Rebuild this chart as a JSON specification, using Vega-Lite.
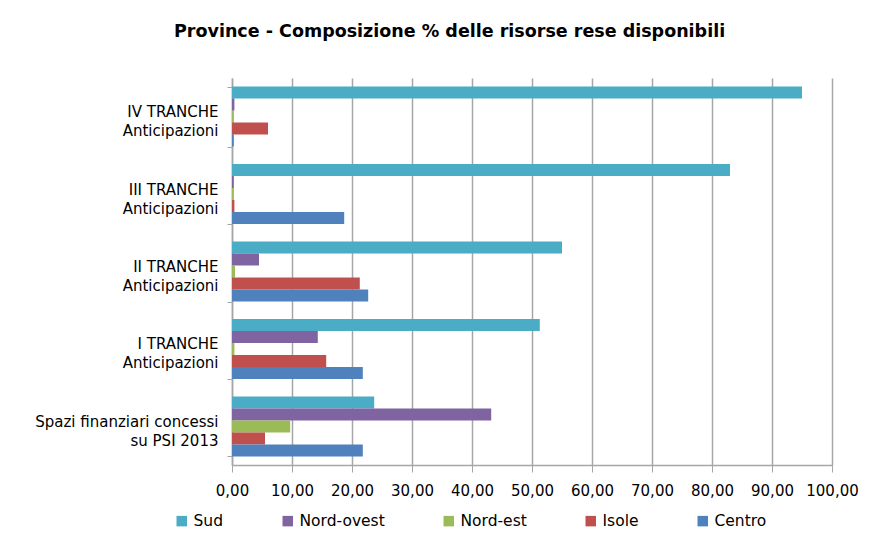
{
  "$schema": "https://vega.github.io/schema/vega-lite/v6.json",
  "width": 600,
  "height": 387,
  "autosize": {"type": "none"},
  "padding": {"left": 232, "top": 78, "right": 53, "bottom": 88},
  "background": "white",
  "title": {
    "text": "Province - Composizione  % delle risorse rese disponibili",
    "font": "DejaVu Sans",
    "fontSize": 17.5,
    "fontWeight": "bold",
    "color": "#000000",
    "anchor": "start",
    "frame": "group",
    "dx": -58,
    "offset": 31
  },
  "data": {
    "values": [
      {"tranche": "IV TRANCHE|Anticipazioni", "area": "Sud", "value": 95.0},
      {"tranche": "IV TRANCHE|Anticipazioni", "area": "Nord-ovest", "value": 0.4},
      {"tranche": "IV TRANCHE|Anticipazioni", "area": "Nord-est", "value": 0.3},
      {"tranche": "IV TRANCHE|Anticipazioni", "area": "Isole", "value": 6.0},
      {"tranche": "IV TRANCHE|Anticipazioni", "area": "Centro", "value": 0.3},
      {"tranche": "III TRANCHE|Anticipazioni", "area": "Sud", "value": 83.0},
      {"tranche": "III TRANCHE|Anticipazioni", "area": "Nord-ovest", "value": 0.3},
      {"tranche": "III TRANCHE|Anticipazioni", "area": "Nord-est", "value": 0.3},
      {"tranche": "III TRANCHE|Anticipazioni", "area": "Isole", "value": 0.4},
      {"tranche": "III TRANCHE|Anticipazioni", "area": "Centro", "value": 18.7},
      {"tranche": "II TRANCHE|Anticipazioni", "area": "Sud", "value": 55.0},
      {"tranche": "II TRANCHE|Anticipazioni", "area": "Nord-ovest", "value": 4.5},
      {"tranche": "II TRANCHE|Anticipazioni", "area": "Nord-est", "value": 0.5},
      {"tranche": "II TRANCHE|Anticipazioni", "area": "Isole", "value": 21.3},
      {"tranche": "II TRANCHE|Anticipazioni", "area": "Centro", "value": 22.7},
      {"tranche": "I TRANCHE |Anticipazioni", "area": "Sud", "value": 51.3},
      {"tranche": "I TRANCHE |Anticipazioni", "area": "Nord-ovest", "value": 14.3},
      {"tranche": "I TRANCHE |Anticipazioni", "area": "Nord-est", "value": 0.4},
      {"tranche": "I TRANCHE |Anticipazioni", "area": "Isole", "value": 15.7},
      {"tranche": "I TRANCHE |Anticipazioni", "area": "Centro", "value": 21.8},
      {"tranche": "Spazi finanziari concessi|su PSI 2013", "area": "Sud", "value": 23.7},
      {"tranche": "Spazi finanziari concessi|su PSI 2013", "area": "Nord-ovest", "value": 43.2},
      {"tranche": "Spazi finanziari concessi|su PSI 2013", "area": "Nord-est", "value": 9.7},
      {"tranche": "Spazi finanziari concessi|su PSI 2013", "area": "Isole", "value": 5.5},
      {"tranche": "Spazi finanziari concessi|su PSI 2013", "area": "Centro", "value": 21.8}
    ]
  },
  "mark": {"type": "bar"},
  "encoding": {
    "y": {
      "field": "tranche",
      "type": "nominal",
      "sort": ["IV TRANCHE|Anticipazioni", "III TRANCHE|Anticipazioni", "II TRANCHE|Anticipazioni", "I TRANCHE |Anticipazioni", "Spazi finanziari concessi|su PSI 2013"],
      "scale": {"paddingInner": 0.225, "paddingOuter": 0.11},
      "axis": {
        "title": null,
        "labelExpr": "split(datum.label, '|')",
        "labelFont": "DejaVu Sans",
        "labelFontSize": 15,
        "labelColor": "#000000",
        "labelLineHeight": 19,
        "labelOffset": -5,
        "labelPadding": 9,
        "labelLimit": 230,
        "tickBand": "extent",
        "tickSize": 5,
        "tickColor": "#a6a6a6",
        "domainColor": "#a6a6a6",
        "domainWidth": 1.5,
        "grid": false
      }
    },
    "yOffset": {
      "field": "area",
      "sort": ["Sud", "Nord-ovest", "Nord-est", "Isole", "Centro"],
      "scale": {"paddingInner": 0, "paddingOuter": 0}
    },
    "x": {
      "field": "value",
      "type": "quantitative",
      "scale": {"domain": [0, 100], "nice": false},
      "axis": {
        "title": null,
        "values": [0, 10, 20, 30, 40, 50, 60, 70, 80, 90, 100],
        "labelExpr": "replace(format(datum.value, '.2f'), '.', ',')",
        "labelFont": "DejaVu Sans",
        "labelFontSize": 15,
        "labelColor": "#000000",
        "labelPadding": 11,
        "labelFlush": false,
        "tickSize": 7,
        "tickColor": "#a6a6a6",
        "domainColor": "#a6a6a6",
        "domainWidth": 1.5,
        "grid": true,
        "gridColor": "#a6a6a6",
        "gridWidth": 1.5
      }
    },
    "color": {
      "field": "area",
      "type": "nominal",
      "sort": ["Sud", "Nord-ovest", "Nord-est", "Isole", "Centro"],
      "scale": {
        "domain": ["Sud", "Nord-ovest", "Nord-est", "Isole", "Centro"],
        "range": ["#4BACC6", "#8064A2", "#9BBB59", "#C0504D", "#4F81BD"]
      },
      "legend": {
        "title": null,
        "orient": "none",
        "legendX": -58,
        "legendY": 435,
        "direction": "horizontal",
        "symbolType": "square",
        "symbolSize": 110,
        "symbolStrokeWidth": 0,
        "labelFont": "DejaVu Sans",
        "labelFontSize": 15.5,
        "labelColor": "#000000",
        "columnPadding": 56,
        "labelOffset": 4
      }
    }
  },
  "config": {"view": {"stroke": null}}
}
